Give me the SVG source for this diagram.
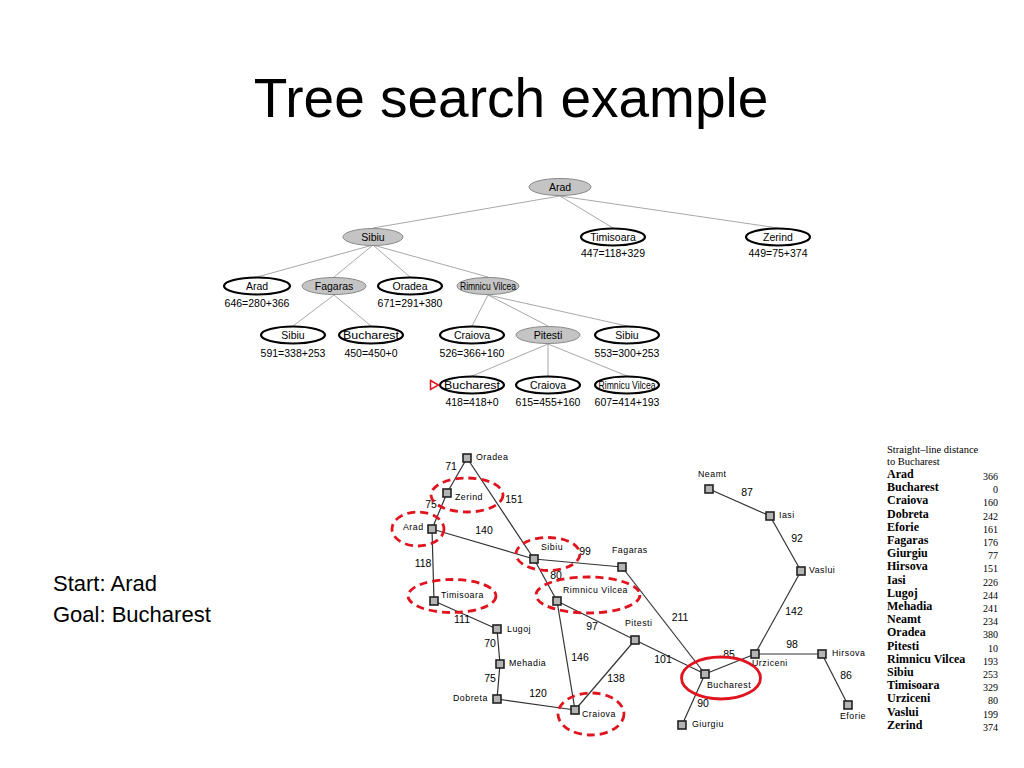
<svg xmlns="http://www.w3.org/2000/svg" width="1024" height="768" viewBox="0 0 1024 768">
<style>
.title{font-family:"Liberation Sans",Arial,sans-serif;font-size:55px;fill:#000}
.side{font-family:"Liberation Sans",Arial,sans-serif;font-size:22px;fill:#000}
.tn{font-family:"Liberation Sans",Arial,sans-serif;font-size:10.5px;fill:#000;text-anchor:middle}
.tl{font-family:"Liberation Sans",Arial,sans-serif;font-size:10.5px;fill:#000;text-anchor:middle}
.open{fill:#fff;stroke:#000;stroke-width:2.2}
.exp{fill:#c4c4c4;stroke:#888;stroke-width:1}
.tedge{stroke:#a8a8a8;stroke-width:1;fill:none}
.medge{stroke:#333;stroke-width:1.2;fill:none}
.city{fill:#b4b4b4;stroke:#222;stroke-width:1.6}
.ml{font-family:"Liberation Sans",Arial,sans-serif;font-size:8.8px;fill:#000;letter-spacing:0.5px}
.el{font-family:"Liberation Sans",Arial,sans-serif;font-size:10.5px;fill:#000;text-anchor:middle}
.dash{fill:none;stroke:#e0141e;stroke-width:2.8;stroke-dasharray:8 5}
.solid{fill:none;stroke:#e0141e;stroke-width:2.8}
.hd{font-family:"Liberation Serif","Times New Roman",serif;font-size:10.5px;fill:#000}
.nm{font-family:"Liberation Serif","Times New Roman",serif;font-size:12px;font-weight:bold;fill:#000}
.nv{font-family:"Liberation Serif","Times New Roman",serif;font-size:10px;fill:#000;text-anchor:end}
</style>

<text class="title" x="511" y="117" text-anchor="middle">Tree search example</text>
<text class="side" x="53" y="591">Start: Arad</text>
<text class="side" x="53" y="622">Goal: Bucharest</text>

<g id="tree-edges">
<line class="tedge" x1="560" y1="196" x2="373" y2="228"/>
<line class="tedge" x1="560" y1="196" x2="613" y2="228"/>
<line class="tedge" x1="560" y1="196" x2="778" y2="228"/>
<line class="tedge" x1="373" y1="245" x2="257" y2="277"/>
<line class="tedge" x1="373" y1="245" x2="334" y2="277"/>
<line class="tedge" x1="373" y1="245" x2="410" y2="277"/>
<line class="tedge" x1="373" y1="245" x2="488" y2="277"/>
<line class="tedge" x1="334" y1="295" x2="293" y2="326"/>
<line class="tedge" x1="334" y1="295" x2="371" y2="326"/>
<line class="tedge" x1="488" y1="295" x2="472" y2="326"/>
<line class="tedge" x1="488" y1="295" x2="548" y2="326"/>
<line class="tedge" x1="488" y1="295" x2="627" y2="326"/>
<line class="tedge" x1="548" y1="344" x2="472" y2="376"/>
<line class="tedge" x1="548" y1="344" x2="548" y2="376"/>
<line class="tedge" x1="548" y1="344" x2="627" y2="376"/>
</g>

<g id="t-arad"><ellipse class="exp" cx="560" cy="187" rx="31" ry="8.5"/><text class="tn" x="560" y="191">Arad</text></g>
<g id="t-sibiu"><ellipse class="exp" cx="373" cy="237" rx="30" ry="8.5"/><text class="tn" x="373" y="241">Sibiu</text></g>
<g id="t-timisoara"><ellipse class="open" cx="613" cy="237" rx="32" ry="8.5"/><text class="tn" x="613" y="241">Timisoara</text><text class="tl" x="613" y="257">447=118+329</text></g>
<g id="t-zerind"><ellipse class="open" cx="778" cy="237" rx="32" ry="8.5"/><text class="tn" x="778" y="241">Zerind</text><text class="tl" x="778" y="257">449=75+374</text></g>

<g id="t-arad2"><ellipse class="open" cx="257" cy="286" rx="33" ry="8.5"/><text class="tn" x="257" y="290">Arad</text><text class="tl" x="257" y="307">646=280+366</text></g>
<g id="t-fagaras"><ellipse class="exp" cx="334" cy="286" rx="32" ry="8.5"/><text class="tn" x="334" y="290">Fagaras</text></g>
<g id="t-oradea"><ellipse class="open" cx="410" cy="286" rx="32" ry="8.5"/><text class="tn" x="410" y="290">Oradea</text><text class="tl" x="410" y="307">671=291+380</text></g>
<g id="t-rimnicu"><ellipse class="exp" cx="488" cy="286" rx="31" ry="8.5"/><text class="tn" x="488" y="289.5" font-size="8.5" textLength="56" lengthAdjust="spacingAndGlyphs">Rimnicu Vilcea</text></g>

<g id="t-sibiu3"><ellipse class="open" cx="293" cy="335" rx="32" ry="8.5"/><text class="tn" x="293" y="339">Sibiu</text><text class="tl" x="293" y="357">591=338+253</text></g>
<g id="t-bucharest3"><ellipse class="open" cx="371" cy="335" rx="32" ry="8.5"/><text class="tn" x="371" y="339" textLength="56" lengthAdjust="spacingAndGlyphs">Bucharest</text><text class="tl" x="371" y="357">450=450+0</text></g>
<g id="t-craiova3"><ellipse class="open" cx="472" cy="335" rx="32" ry="8.5"/><text class="tn" x="472" y="339">Craiova</text><text class="tl" x="472" y="357">526=366+160</text></g>
<g id="t-pitesti"><ellipse class="exp" cx="548" cy="335" rx="32" ry="8.5"/><text class="tn" x="548" y="339">Pitesti</text></g>
<g id="t-sibiu3b"><ellipse class="open" cx="627" cy="335" rx="32" ry="8.5"/><text class="tn" x="627" y="339">Sibiu</text><text class="tl" x="627" y="357">553=300+253</text></g>

<g id="t-bucharest4"><ellipse class="open" cx="472" cy="385" rx="32" ry="8.5"/><text class="tn" x="472" y="389" textLength="56" lengthAdjust="spacingAndGlyphs">Bucharest</text><text class="tl" x="472" y="406">418=418+0</text><polygon points="430.5,380.5 438.5,385 430.5,389.5" fill="none" stroke="#e0141e" stroke-width="1.5"/></g>
<g id="t-craiova4"><ellipse class="open" cx="548" cy="385" rx="32" ry="8.5"/><text class="tn" x="548" y="389">Craiova</text><text class="tl" x="548" y="406">615=455+160</text></g>
<g id="t-rimnicu4"><ellipse class="open" cx="627" cy="385" rx="32" ry="8.5"/><text class="tn" x="627" y="388.5" font-size="8.5" textLength="57" lengthAdjust="spacingAndGlyphs">Rimnicu Vilcea</text><text class="tl" x="627" y="406">607=414+193</text></g>

<g id="map-edges">
<line class="medge" x1="467" y1="458" x2="447" y2="493"/>
<line class="medge" x1="467" y1="458" x2="534" y2="559"/>
<line class="medge" x1="447" y1="493" x2="432" y2="529"/>
<line class="medge" x1="432" y1="529" x2="534" y2="559"/>
<line class="medge" x1="432" y1="529" x2="434" y2="601"/>
<line class="medge" x1="434" y1="601" x2="497" y2="629"/>
<line class="medge" x1="497" y1="629" x2="500" y2="664"/>
<line class="medge" x1="500" y1="664" x2="497" y2="699"/>
<line class="medge" x1="497" y1="699" x2="575" y2="710"/>
<line class="medge" x1="534" y1="559" x2="622" y2="567"/>
<line class="medge" x1="534" y1="559" x2="557" y2="601"/>
<line class="medge" x1="557" y1="601" x2="635" y2="640"/>
<line class="medge" x1="557" y1="601" x2="575" y2="710"/>
<line class="medge" x1="575" y1="710" x2="635" y2="640"/>
<line class="medge" x1="635" y1="640" x2="705" y2="674"/>
<line class="medge" x1="622" y1="567" x2="705" y2="674"/>
<line class="medge" x1="705" y1="674" x2="682" y2="725"/>
<line class="medge" x1="705" y1="674" x2="755" y2="654"/>
<line class="medge" x1="755" y1="654" x2="822" y2="654"/>
<line class="medge" x1="822" y1="654" x2="848" y2="705"/>
<line class="medge" x1="755" y1="654" x2="801" y2="571"/>
<line class="medge" x1="801" y1="571" x2="770" y2="516"/>
<line class="medge" x1="770" y1="516" x2="709" y2="489"/>
</g>

<g id="edge-labels">
<text class="el" x="451" y="470">71</text>
<text class="el" x="431" y="508">75</text>
<text class="el" x="514" y="503">151</text>
<text class="el" x="484" y="534">140</text>
<text class="el" x="423" y="567">118</text>
<text class="el" x="585" y="555">99</text>
<text class="el" x="556" y="579">80</text>
<text class="el" x="462" y="623">111</text>
<text class="el" x="490" y="647">70</text>
<text class="el" x="490" y="682">75</text>
<text class="el" x="538" y="697">120</text>
<text class="el" x="580" y="661">146</text>
<text class="el" x="592" y="630">97</text>
<text class="el" x="616" y="682">138</text>
<text class="el" x="663" y="663">101</text>
<text class="el" x="680" y="621">211</text>
<text class="el" x="747" y="496">87</text>
<text class="el" x="797" y="542">92</text>
<text class="el" x="794" y="615">142</text>
<text class="el" x="729" y="658">85</text>
<text class="el" x="792" y="648">98</text>
<text class="el" x="846" y="679">86</text>
<text class="el" x="703" y="707">90</text>
</g>

<g id="m-oradea"><rect class="city" x="463" y="454" width="8" height="8"/><text class="ml" x="476" y="460">Oradea</text></g>
<g id="m-zerind"><rect class="city" x="443" y="489" width="8" height="8"/><text class="ml" x="455" y="500">Zerind</text></g>
<g id="m-arad"><rect class="city" x="428" y="525" width="8" height="8"/><text class="ml" x="403" y="530">Arad</text></g>
<g id="m-sibiu"><rect class="city" x="530" y="555" width="8" height="8"/><text class="ml" x="541" y="550">Sibiu</text></g>
<g id="m-fagaras"><rect class="city" x="618" y="563" width="8" height="8"/><text class="ml" x="612" y="553">Fagaras</text></g>
<g id="m-timisoara"><rect class="city" x="430" y="597" width="8" height="8"/><text class="ml" x="441" y="598">Timisoara</text></g>
<g id="m-rimnicu"><rect class="city" x="553" y="597" width="8" height="8"/><text class="ml" x="563" y="593">Rimnicu Vilcea</text></g>
<g id="m-lugoj"><rect class="city" x="493" y="625" width="8" height="8"/><text class="ml" x="507" y="632">Lugoj</text></g>
<g id="m-mehadia"><rect class="city" x="496" y="660" width="8" height="8"/><text class="ml" x="509" y="666">Mehadia</text></g>
<g id="m-dobreta"><rect class="city" x="493" y="695" width="8" height="8"/><text class="ml" x="453" y="701">Dobreta</text></g>
<g id="m-craiova"><rect class="city" x="571" y="706" width="8" height="8"/><text class="ml" x="582" y="717">Craiova</text></g>
<g id="m-pitesti"><rect class="city" x="631" y="636" width="8" height="8"/><text class="ml" x="625" y="626">Pitesti</text></g>
<g id="m-bucharest"><rect class="city" x="701" y="670" width="8" height="8"/><text class="ml" x="707" y="688">Bucharest</text></g>
<g id="m-giurgiu"><rect class="city" x="678" y="721" width="8" height="8"/><text class="ml" x="692" y="727">Giurgiu</text></g>
<g id="m-urziceni"><rect class="city" x="751" y="650" width="8" height="8"/><text class="ml" x="752" y="666">Urziceni</text></g>
<g id="m-hirsova"><rect class="city" x="818" y="650" width="8" height="8"/><text class="ml" x="832" y="656">Hirsova</text></g>
<g id="m-eforie"><rect class="city" x="844" y="701" width="8" height="8"/><text class="ml" x="840" y="719">Eforie</text></g>
<g id="m-vaslui"><rect class="city" x="797" y="567" width="8" height="8"/><text class="ml" x="809" y="573">Vaslui</text></g>
<g id="m-iasi"><rect class="city" x="766" y="512" width="8" height="8"/><text class="ml" x="779" y="518">Iasi</text></g>
<g id="m-neamt"><rect class="city" x="705" y="485" width="8" height="8"/><text class="ml" x="698" y="477">Neamt</text></g>

<g id="highlights">
<ellipse class="dash" cx="467" cy="495" rx="36" ry="17"/>
<ellipse class="dash" cx="418" cy="529" rx="26" ry="17"/>
<ellipse class="dash" cx="548" cy="554" rx="32" ry="16.5"/>
<ellipse class="dash" cx="452" cy="596" rx="44" ry="16.5"/>
<ellipse class="dash" cx="588" cy="595" rx="52" ry="18"/>
<ellipse class="dash" cx="591" cy="714" rx="33" ry="21"/>
<ellipse class="solid" cx="721" cy="678" rx="39.5" ry="21"/>
</g>

<g id="table">
<text class="hd" x="887" y="453">Straight–line distance</text>
<text class="hd" x="887" y="465">to Bucharest</text>
<text class="nm" x="887" y="478">Arad</text><text class="nv" x="998" y="480">366</text>
<text class="nm" x="887" y="491.2">Bucharest</text><text class="nv" x="998" y="493.2">0</text>
<text class="nm" x="887" y="504.4">Craiova</text><text class="nv" x="998" y="506.4">160</text>
<text class="nm" x="887" y="517.6">Dobreta</text><text class="nv" x="998" y="519.6">242</text>
<text class="nm" x="887" y="530.8">Eforie</text><text class="nv" x="998" y="532.8">161</text>
<text class="nm" x="887" y="544">Fagaras</text><text class="nv" x="998" y="546">176</text>
<text class="nm" x="887" y="557.2">Giurgiu</text><text class="nv" x="998" y="559.2">77</text>
<text class="nm" x="887" y="570.4">Hirsova</text><text class="nv" x="998" y="572.4">151</text>
<text class="nm" x="887" y="583.6">Iasi</text><text class="nv" x="998" y="585.6">226</text>
<text class="nm" x="887" y="596.8">Lugoj</text><text class="nv" x="998" y="598.8">244</text>
<text class="nm" x="887" y="610">Mehadia</text><text class="nv" x="998" y="612">241</text>
<text class="nm" x="887" y="623.2">Neamt</text><text class="nv" x="998" y="625.2">234</text>
<text class="nm" x="887" y="636.4">Oradea</text><text class="nv" x="998" y="638.4">380</text>
<text class="nm" x="887" y="649.6">Pitesti</text><text class="nv" x="998" y="651.6">10</text>
<text class="nm" x="887" y="662.8">Rimnicu Vilcea</text><text class="nv" x="998" y="664.8">193</text>
<text class="nm" x="887" y="676">Sibiu</text><text class="nv" x="998" y="678">253</text>
<text class="nm" x="887" y="689.2">Timisoara</text><text class="nv" x="998" y="691.2">329</text>
<text class="nm" x="887" y="702.4">Urziceni</text><text class="nv" x="998" y="704.4">80</text>
<text class="nm" x="887" y="715.6">Vaslui</text><text class="nv" x="998" y="717.6">199</text>
<text class="nm" x="887" y="728.8">Zerind</text><text class="nv" x="998" y="730.8">374</text>
</g>
</svg>
